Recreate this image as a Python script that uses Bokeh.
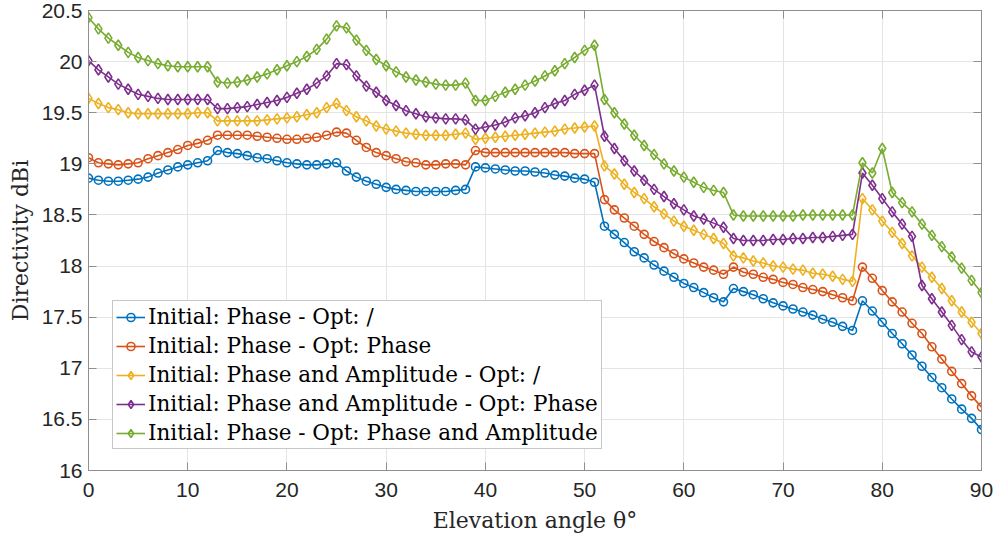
from bokeh.plotting import figure
from bokeh.models import Legend, LegendItem, LinearAxis, FixedTicker, Range1d
from bokeh.embed import file_html
from bokeh.resources import INLINE

angles = list(range(91))

phase_none = [
    18.86, 18.84, 18.83, 18.83, 18.84, 18.85, 18.87, 18.91, 18.94, 18.97,
    18.99, 19.01, 19.03, 19.13, 19.11, 19.10, 19.08, 19.06, 19.05, 19.03,
    19.01, 19.00, 18.99, 18.99, 19.00, 19.01, 18.93, 18.87, 18.83, 18.80,
    18.77, 18.75, 18.74, 18.73, 18.73, 18.73, 18.73, 18.74, 18.75, 18.97,
    18.96, 18.95, 18.94, 18.93, 18.93, 18.92, 18.91, 18.89, 18.88, 18.86,
    18.85, 18.82, 18.39, 18.31, 18.23, 18.14, 18.08, 18.01, 17.95, 17.89,
    17.83, 17.79, 17.74, 17.69, 17.65, 17.78, 17.75, 17.72, 17.68, 17.64,
    17.61, 17.58, 17.55, 17.52, 17.48, 17.45, 17.41, 17.37, 17.66, 17.56,
    17.45, 17.34, 17.24, 17.13, 17.02, 16.91, 16.81, 16.70, 16.60, 16.51,
    16.40]

phase_phase = [
    19.06, 19.01, 19.00, 18.99, 19.00, 19.01, 19.05, 19.08, 19.11, 19.14,
    19.18, 19.20, 19.23, 19.28, 19.28, 19.28, 19.28, 19.27, 19.26, 19.25,
    19.24, 19.24, 19.25, 19.26, 19.28, 19.31, 19.30, 19.23, 19.16, 19.11,
    19.08, 19.05, 19.02, 19.01, 18.99, 18.99, 19.00, 19.00, 18.99, 19.13,
    19.11, 19.11, 19.11, 19.11, 19.11, 19.11, 19.11, 19.11, 19.11, 19.10,
    19.10, 19.10, 18.65, 18.55, 18.47, 18.39, 18.31, 18.24, 18.18, 18.12,
    18.07, 18.03, 17.99, 17.96, 17.92, 17.99, 17.94, 17.92, 17.89, 17.87,
    17.84, 17.82, 17.79, 17.77, 17.75, 17.72, 17.69, 17.66, 17.99, 17.88,
    17.76, 17.65, 17.55, 17.44, 17.34, 17.21, 17.09, 16.97, 16.85, 16.73,
    16.62]

phamp_none = [
    19.64, 19.59, 19.55, 19.53, 19.50, 19.49, 19.49, 19.49, 19.49, 19.49,
    19.49, 19.50, 19.50, 19.42, 19.42, 19.42, 19.42, 19.42, 19.43, 19.44,
    19.45, 19.46, 19.48, 19.50, 19.55, 19.59, 19.52, 19.46, 19.42, 19.37,
    19.34, 19.32, 19.30, 19.29, 19.28, 19.28, 19.28, 19.29, 19.30, 19.24,
    19.25, 19.26, 19.27, 19.28, 19.29, 19.30, 19.31, 19.32, 19.34, 19.35,
    19.36, 19.37, 18.98, 18.90, 18.80, 18.72, 18.66, 18.58, 18.51, 18.44,
    18.39, 18.35, 18.31, 18.27, 18.22, 18.10, 18.08, 18.05, 18.03, 18.00,
    17.99, 17.97, 17.96, 17.93, 17.92, 17.90, 17.87, 17.85, 18.66, 18.55,
    18.44, 18.33, 18.22, 18.10, 17.99, 17.89, 17.78, 17.66, 17.55, 17.45,
    17.34]

phamp_phase = [
    20.01, 19.92, 19.85, 19.78, 19.73, 19.68, 19.66, 19.64, 19.63, 19.63,
    19.63, 19.63, 19.63, 19.54, 19.54, 19.55, 19.56, 19.58, 19.60, 19.62,
    19.65, 19.69, 19.73, 19.79, 19.86, 19.98, 19.97, 19.86, 19.76, 19.70,
    19.62, 19.57, 19.52, 19.49, 19.46, 19.45, 19.44, 19.44, 19.43, 19.34,
    19.36, 19.38, 19.41, 19.45, 19.47, 19.50, 19.55, 19.59, 19.62, 19.68,
    19.72, 19.77, 19.27, 19.15, 19.03, 18.93, 18.84, 18.75, 18.68, 18.61,
    18.55, 18.49, 18.46, 18.42, 18.38, 18.27, 18.25, 18.25, 18.25, 18.26,
    18.26, 18.27, 18.27, 18.28, 18.28, 18.29, 18.30, 18.31, 18.91, 18.79,
    18.66, 18.53, 18.41, 18.29, 17.81, 17.68, 17.55, 17.42, 17.28, 17.16,
    17.11]

phase_phamp = [
    20.43, 20.32, 20.23, 20.16, 20.09, 20.04, 20.01, 19.98, 19.96, 19.95,
    19.95, 19.95, 19.95, 19.80, 19.79, 19.80, 19.82, 19.85, 19.88, 19.92,
    19.96, 20.00, 20.05, 20.12, 20.22, 20.35, 20.33, 20.21, 20.11, 20.02,
    19.96, 19.90, 19.85, 19.82, 19.80, 19.78, 19.77, 19.77, 19.79, 19.62,
    19.62, 19.66, 19.70, 19.73, 19.77, 19.81, 19.86, 19.91, 19.98, 20.04,
    20.11, 20.16, 19.63, 19.50, 19.39, 19.28, 19.18, 19.09, 19.00, 18.93,
    18.87, 18.82, 18.77, 18.74, 18.72, 18.50, 18.49, 18.49, 18.49, 18.49,
    18.49, 18.49, 18.50, 18.50, 18.50, 18.50, 18.50, 18.50, 19.01, 18.91,
    19.15, 18.72, 18.62, 18.53, 18.41, 18.30, 18.19, 18.09, 17.98, 17.86,
    17.74]

series_labels = [
    "Initial: Phase - Opt: /",
    "Initial: Phase - Opt: Phase",
    "Initial: Phase and Amplitude - Opt: /",
    "Initial: Phase and Amplitude - Opt: Phase",
    "Initial: Phase - Opt: Phase and Amplitude",
]
series_values = [phase_none, phase_phase, phamp_none, phamp_phase, phase_phamp]
colors = ["#0072BD", "#D95319", "#EDB120", "#7E2F8E", "#77AC30"]
markers = ["circle", "circle", "diamond", "diamond", "diamond"]
marker_sizes = [8, 8, 10.5, 10.5, 10.5]

x_ticks = [0, 10, 20, 30, 40, 50, 60, 70, 80, 90]
y_ticks = [16, 16.5, 17, 17.5, 18, 18.5, 19, 19.5, 20, 20.5]
y_tick_labels = ["16", "16.5", "17", "17.5", "18", "18.5", "19", "19.5", "20", "20.5"]

AX = "#8f8f8f"
TXT = "#262626"

p = figure(width=997, height=536, output_backend="svg", toolbar_location=None,
           x_range=Range1d(0, 90), y_range=Range1d(16, 20.5),
           min_border_left=88, min_border_right=16, min_border_top=10,
           min_border_bottom=66, background_fill_color="white",
           border_fill_color="white")
p.outline_line_color = AX
p.outline_line_width = 1

p.xaxis.ticker = FixedTicker(ticks=x_ticks)
p.yaxis.ticker = FixedTicker(ticks=y_ticks)
p.yaxis.major_label_overrides = {t: l for t, l in zip(y_ticks, y_tick_labels)}

for ax in (p.xaxis[0], p.yaxis[0]):
    ax.axis_line_color = AX
    ax.major_tick_line_color = AX
    ax.major_tick_in = 8
    ax.major_tick_out = 0
    ax.minor_tick_line_color = None
    ax.major_label_text_font = "Liberation Sans"
    ax.major_label_text_font_size = "21px"
    ax.major_label_text_color = TXT
    ax.axis_label_text_font = "DejaVu Serif"
    ax.axis_label_text_font_size = "22px"
    ax.axis_label_text_font_style = "normal"
    ax.axis_label_text_color = TXT

p.xaxis.axis_label = "Elevation angle θ°"
p.yaxis.axis_label = "Directivity dBi"
p.xaxis.major_label_standoff = 12
p.yaxis.major_label_standoff = 6
p.xaxis.axis_label_standoff = 8
p.yaxis.axis_label_standoff = 6

for loc, ticks in (("above", x_ticks), ("right", y_ticks)):
    a = LinearAxis(ticker=FixedTicker(ticks=ticks), axis_line_color=AX,
                   major_tick_line_color=AX, major_tick_in=8, major_tick_out=0,
                   minor_tick_line_color=None, major_label_text_color=None,
                   major_label_text_font_size="1px", major_label_standoff=0)
    p.add_layout(a, loc)

p.grid.grid_line_color = "#e4e4e4"
p.grid.grid_line_width = 1
p.xgrid.ticker = FixedTicker(ticks=x_ticks)
p.ygrid.ticker = FixedTicker(ticks=y_ticks)

items = []
for vals, lab, col, mk, ms in zip(series_values, series_labels, colors, markers, marker_sizes):
    r1 = p.line(angles, vals, line_color=col, line_width=1.6)
    r2 = p.scatter(angles, vals, marker=mk, size=ms, line_color=col,
                   line_width=1.6, fill_color=None)
    items.append(LegendItem(label=lab, renderers=[r1, r2]))

legend = Legend(items=items, location=(24, 21), margin=0, padding=3,
                spacing=4, glyph_width=29, glyph_height=20, label_height=20,
                label_standoff=3, label_text_font="DejaVu Serif",
                label_text_font_size="21.5px", label_text_color="black",
                border_line_color=AX, border_line_width=1,
                background_fill_color="white", background_fill_alpha=1)
p.add_layout(legend)

open("out.html", "w").write(file_html(p, INLINE))
